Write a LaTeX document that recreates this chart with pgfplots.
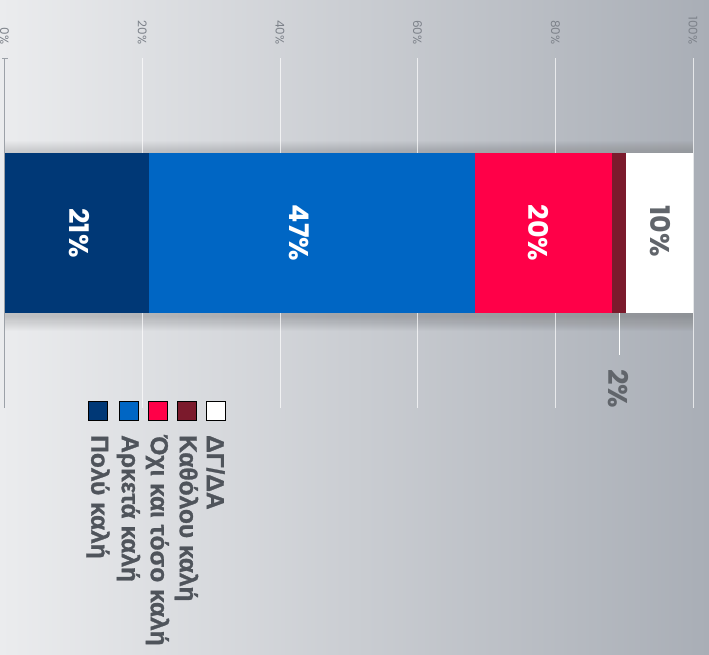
\documentclass[border=0pt]{standalone}
\usepackage{pgfplots}
\pgfplotsset{compat=1.18}
\usepackage{fontspec}
\setmainfont{Liberation Sans}
\newfontfamily\pop{Poppins}
\newfontfamily\legf{Liberation Sans}[FakeBold=1.2]
\definecolor{navy}{HTML}{003876}
\definecolor{cblue}{HTML}{0066C4}
\definecolor{cred}{HTML}{FF0048}
\definecolor{cmaroon}{HTML}{7B1A2C}
\definecolor{tickgray}{HTML}{7D828A}
\definecolor{txtgray}{HTML}{4F545B}
\definecolor{bgl}{HTML}{EBECEE}
\definecolor{bgr}{HTML}{A9AEB6}
\definecolor{zline}{HTML}{9CA1A8}
\pgfplotsset{myax/.style={at={(4.5pt,247pt)}, anchor=south west, scale only axis,
  width=688.5pt, height=350pt, xmin=0, xmax=100, ymin=247, ymax=597, clip=false}}
\begin{document}
\begin{tikzpicture}[x=1pt,y=1pt]
\path[use as bounding box] (0,0) rectangle (709,655);
\shade[left color=bgl, right color=bgr] (0,0) rectangle (709,655);
\foreach \k in {1,...,14} {
  \fill[black, opacity=0.012] (4.5, 342-1.1*\k-3) rectangle (693, 502+1.1*\k-3);
}
\begin{axis}[myax, xbar stacked, bar width=160pt,
  axis line style={draw=none}, ytick=\empty,
  xtick={0,20,...,100}, xticklabel pos=upper,
  xticklabel={\pgfmathprintnumber{\tick}\%},
  /pgf/number format/assume math mode=true,
  xticklabel style={yshift=10pt, rotate=-90, anchor=east, text=tickgray,
    font=\pop\fontsize{12}{12}\selectfont},
  major tick length=0pt,
  xmajorgrids, grid style={white, opacity=0.7, line width=0.6pt}]
\addplot[fill=navy, draw=none] coordinates {(21.0,422)};
\addplot[fill=cblue, draw=none] coordinates {(47.3,422)};
\addplot[fill=cred, draw=none] coordinates {(20.0,422)};
\addplot[fill=cmaroon, draw=none] coordinates {(2.0,422)};
\addplot[fill=white, draw=none] coordinates {(9.7,422)};
\end{axis}
\begin{axis}[myax, hide axis]
\addplot[zline, line width=0.8pt] coordinates {(0,247) (0,597)};
\addplot[zline, line width=0.8pt] coordinates {(-0.36,597) (0.51,597)};
\addplot[white, line width=1.4pt] coordinates {(89.3,342) (89.3,300)};
% data labels
\addplot[only marks, mark=none, point meta=explicit symbolic, nodes near coords,
  every node near coord/.append style={anchor=center, rotate=-90, text=white,
    font=\pop\bfseries\fontsize{27}{27}\selectfont}]
  coordinates {(10.82,422)[21\%] (42.77,422)[47\%] (77.49,422)[20\%]};
\addplot[only marks, mark=none, point meta=explicit symbolic, nodes near coords,
  every node near coord/.append style={anchor=center, rotate=-90, text=txtgray!90,
    font=\pop\bfseries\fontsize{27}{27}\selectfont}]
  coordinates {(95.2,424)[10\%] (89.18,266)[2\%]};
% legend
\addplot[only marks, mark=square*, mark size=9.5pt, mark options={fill=navy, draw=none}] coordinates {(13.58,244.5)};
\addplot[only marks, mark=square*, mark size=9.5pt, mark options={fill=cblue, draw=none}] coordinates {(18.01,244.5)};
\addplot[only marks, mark=square*, mark size=9.5pt, mark options={fill=cred, draw=none}] coordinates {(22.22,244.5)};
\addplot[only marks, mark=square*, mark size=9.5pt, mark options={fill=cmaroon, draw=none}] coordinates {(26.43,244.5)};
\addplot[only marks, mark=square*, mark size=9.5pt, mark options={fill=white, draw=none}] coordinates {(30.65,244.5)};
\addplot[only marks, mark=none, point meta=explicit symbolic, nodes near coords,
  every node near coord/.append style={anchor=west, rotate=-90, text=txtgray, inner sep=0pt,
    font=\legf\bfseries\fontsize{24.5}{24.5}\selectfont}]
  coordinates {(13.58,220)[Πολύ καλή] (18.01,220)[Αρκετά καλή] (22.22,220)[Όχι και τόσο καλή]
  (26.43,220)[Καθόλου καλή] (30.65,220)[ΔΓ/ΔΑ]};
\end{axis}
\end{tikzpicture}
\end{document}
